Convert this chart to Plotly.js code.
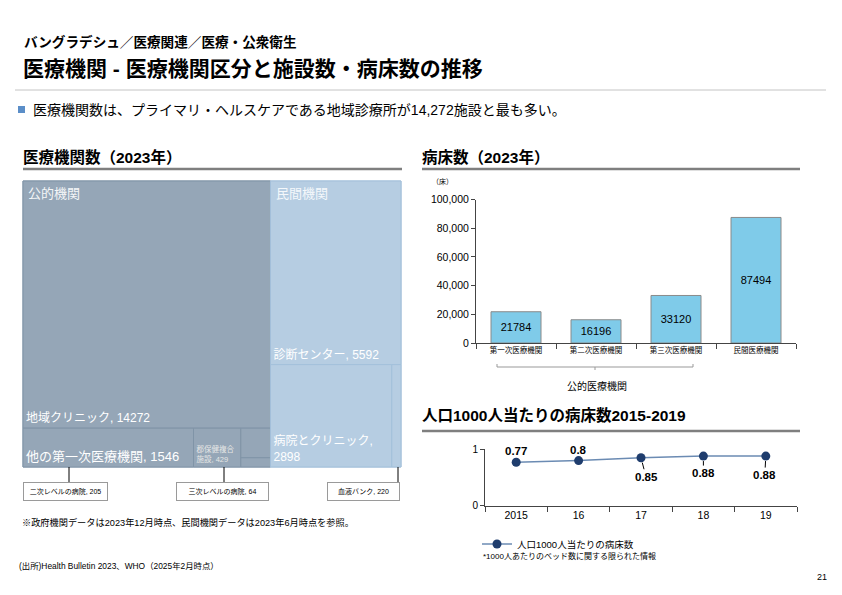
<!DOCTYPE html>
<html><head><meta charset="utf-8">
<script src="https://cdn.plot.ly/plotly-3.0.1.min.js"></script>
<style>html,body{margin:0;padding:0;background:#fff;}#chart{width:842px;height:595px;}</style>
</head><body><div id="chart"></div>
<script>
// ---- data ----
var facilityGroups = ["公的機関", "民間機関"];
var publicLabels = ["地域クリニック", "他の第一次医療機関", "郡保健複合施設", "二次レベルの病院", "三次レベルの病院"];
var publicCounts = [14272, 1546, 429, 205, 64];
var privateLabels = ["診断センター", "病院とクリニック", "血液バンク"];
var privateCounts = [5592, 2898, 220];

var bedCategories = ["第一次医療機関", "第二次医療機関", "第三次医療機関", "民間医療機関"];
var bedCounts = [21784, 16196, 33120, 87494];

var years = ["2015", "16", "17", "18", "19"];
var bedsPer1000 = [0.77, 0.8, 0.85, 0.88, 0.88];
var lineName = "人口1000人当たりの病床数";

// ---- helpers ----
var W = 842, H = 595;
function px(x) { return x / W; }
function py(y) { return 1 - y / H; }
var FONT = "Liberation Sans, Noto Sans CJK JP, sans-serif";

// ---- treemap ----
var tmLabels = facilityGroups.concat(publicLabels, privateLabels);
var tmParents = ["", ""].concat(publicLabels.map(function () { return facilityGroups[0]; }),
                                privateLabels.map(function () { return facilityGroups[1]; }));
var tmValues = [0, 0].concat(publicCounts, privateCounts);
var PUB = "#95a6b7", PRI = "#b6cde2";
var tmColors = [PUB, PRI].concat(publicLabels.map(function () { return PUB; }), privateLabels.map(function () { return PRI; }));
var tmLine = ["#8094a7", "#a3c0da"].concat(publicLabels.map(function () { return "#8094a7"; }), privateLabels.map(function () { return "#a3c0da"; }));
var tmText = tmLabels.map(function (l, i) {
  var v = tmValues[i];
  if (i < 2) return "";
  if (l === "郡保健複合施設") return "郡保健複合<br>施設, " + v;
  if (l === "病院とクリニック") return l + ",<br>" + v;
  if (v < 300) return "";
  return l + ", " + v;
});
var tmSize = tmLabels.map(function (l) {
  if (l === "他の第一次医療機関") return 13;
  if (l === "郡保健複合施設") return 7.5;
  return 12;
});
var tmTextColor = tmLabels.map(function (l) { return l === "郡保健複合施設" ? "#e6e6e6" : "#ffffff"; });

var treemap = {
  type: "treemap",
  labels: tmLabels, parents: tmParents, values: tmValues,
  branchvalues: "remainder",
  text: tmText, textinfo: "text",
  textposition: "bottom left",
  textfont: { family: FONT, size: tmSize, color: tmTextColor },
  marker: { colors: tmColors, line: { color: tmLine, width: 1 }, pad: { t: 0, l: 0, r: 0, b: 0 }, depthfade: false },
  tiling: { packing: "squarify", pad: 0 },
  pathbar: { visible: false },
  root: { color: "rgba(0,0,0,0)" },
  domain: { x: [px(23), px(401)], y: [py(467), py(181)] },
  hoverinfo: "skip", sort: true
};

// ---- bar ----
var bar = {
  type: "bar", x: bedCategories, y: bedCounts, xaxis: "x", yaxis: "y",
  width: 0.625,
  marker: { color: "#7fcbe9", line: { color: "#8a8a8a", width: 1 } },
  text: bedCounts.map(String), textposition: "inside", insidetextanchor: "middle", textangle: 0,
  textfont: { family: FONT, size: 11, color: "#000" },
  hoverinfo: "skip", showlegend: false
};

// ---- line ----
var line = {
  type: "scatter", mode: "lines+markers", x: years, y: bedsPer1000, xaxis: "x2", yaxis: "y2",
  name: lineName,
  line: { color: "#6b8bb3", width: 1.5 },
  marker: { color: "#1f3d6d", size: 9 },
  hoverinfo: "skip", showlegend: true
};

// ---- annotations ----
var ann = [];
function txt(x, y, t, size, opts) {
  var a = { xref: "paper", yref: "paper", x: px(x), y: py(y), text: t, showarrow: false,
            xanchor: "left", yanchor: "middle", font: { family: FONT, size: size, color: "#000" } };
  for (var k in (opts || {})) a[k] = opts[k];
  return a;
}
ann.push(txt(22, 42, "<b>バングラデシュ／医療関連／医療・公衆衛生</b>", 13.6));
ann.push(txt(21, 68, "<b>医療機関 - 医療機関区分と施設数・病床数の推移</b>", 21));
ann.push(txt(31, 110, "医療機関数は、プライマリ・ヘルスケアである地域診療所が14,272施設と最も多い。", 14));
ann.push(txt(21, 157, "<b>医療機関数（2023年）</b>", 15.5));
ann.push(txt(420, 157, "<b>病床数（2023年）</b>", 15.5));
ann.push(txt(420, 415, "<b>人口1000人当たりの病床数2015-2019</b>", 15.5));
ann.push(txt(430, 182, "（床）", 7));
ann.push(txt(597, 386, "公的医療機関", 10, { xanchor: "center" }));
ann.push(txt(26, 194, facilityGroups[0], 13, { font: { family: FONT, size: 13, color: "#f4f6f8" } }));
ann.push(txt(274, 194, facilityGroups[1], 13, { font: { family: FONT, size: 13, color: "#f4f8fb" } }));
ann.push(txt(20, 522, "※政府機関データは2023年12月時点、民間機関データは2023年6月時点を参照。", 9.2));
ann.push(txt(17, 566, "(出所)Health Bulletin 2023、WHO（2025年2月時点）", 8.4));
ann.push(txt(481, 556, "*1000人あたりのベッド数に関する限られた情報", 8));
ann.push(txt(822, 577, "21", 9, { xanchor: "center" }));

// callouts for tiny cells
var callouts = [
  { label: publicLabels[3], value: publicCounts[3], cx: 65.5, w: 85, lx: 69 },
  { label: publicLabels[4], value: publicCounts[4], cx: 222.5, w: 93, lx: 224 },
  { label: privateLabels[2], value: privateCounts[2], cx: 363.5, w: 73, lx: 398 }
];
callouts.forEach(function (c) {
  ann.push({ xref: "paper", yref: "paper", x: px(c.cx), y: py(491), text: c.label + ", " + c.value,
    showarrow: false, xanchor: "center", yanchor: "middle", width: c.w - 4, height: 15,
    bordercolor: "#9a9a9a", borderwidth: 1, bgcolor: "#fff", font: { family: FONT, size: 7, color: "#000" } });
});

// line data labels (x given as category index)
var labelOffsets = [null, null, { ax: 5, ay: 19 }, { ax: 0, ay: 17 }, { ax: -1, ay: 19 }];
years.forEach(function (yr, i) {
  var a = { xref: "x2", yref: "y2", x: i, y: bedsPer1000[i], text: "<b>" + bedsPer1000[i] + "</b>",
            font: { family: FONT, size: 11.5, color: "#000" } };
  if (labelOffsets[i] === null) { a.showarrow = false; a.yshift = 11; }
  else { a.showarrow = true; a.arrowhead = 0; a.arrowwidth = 1; a.arrowcolor = "#000";
         a.ax = labelOffsets[i].ax; a.ay = labelOffsets[i].ay; a.standoff = 5; }
  ann.push(a);
});

// ---- shapes ----
var shapes = [];
function ln(x0, y0, x1, y1, color, width) {
  shapes.push({ type: "line", xref: "paper", yref: "paper", x0: px(x0), y0: py(y0), x1: px(x1), y1: py(y1),
    line: { color: color, width: width } });
}
ln(15, 90, 826, 90, "#c4c4c4", 1);
shapes.push({ type: "rect", xref: "paper", yref: "paper", x0: px(18), x1: px(25), y0: py(113), y1: py(106),
  fillcolor: "#5b8ec8", line: { width: 0 } });
ln(23, 169, 402, 169, "#7f7f7f", 2.5);
ln(422, 169, 800, 169, "#7f7f7f", 2.5);
ln(422, 431, 800, 431, "#7f7f7f", 2.5);
// bracket under public categories
ln(497, 364, 497, 367, "#999", 1);
ln(497, 367, 693, 367, "#999", 1);
ln(693, 364, 693, 367, "#999", 1);
ln(595, 367, 595, 370, "#999", 1);
// leader lines
callouts.forEach(function (c) { ln(c.lx, 467, c.lx, 483, "#000", 1); });

var layout = {
  width: W, height: H, margin: { l: 0, r: 0, t: 0, b: 0 },
  paper_bgcolor: "#fff", plot_bgcolor: "rgba(0,0,0,0)",
  font: { family: FONT, color: "#000" },
  xaxis: { domain: [px(476), px(796)], anchor: "y", type: "category", showline: true, linecolor: "#444", linewidth: 1,
           ticks: "outside", tickson: "boundaries", ticklen: 5, tickcolor: "#444", tickfont: { size: 7.5 },
           showgrid: false, fixedrange: true, range: [-0.5, 3.5] },
  yaxis: { domain: [py(343), py(199.5)], anchor: "x", range: [0, 100000], tickvals: [0, 20000, 40000, 60000, 80000, 100000],
           tickformat: ",d", showline: true, linecolor: "#444", linewidth: 1, ticks: "outside", ticklen: 4, tickcolor: "#444",
           showgrid: false, zeroline: false, tickfont: { size: 10.5 }, fixedrange: true },
  xaxis2: { domain: [px(485), px(797)], anchor: "y2", type: "category", showline: true, linecolor: "#444", linewidth: 1,
            ticks: "outside", tickson: "boundaries", ticklen: 5, tickcolor: "#444", tickfont: { size: 10.5 },
            showgrid: false, fixedrange: true, range: [-0.5, 4.5], tickangle: 0 },
  yaxis2: { domain: [py(505.7), py(449.3)], anchor: "x2", range: [0, 1], tickvals: [0, 1], showline: true, linecolor: "#444",
            linewidth: 1, ticks: "outside", ticklen: 4, tickcolor: "#444", showgrid: false, zeroline: false,
            tickfont: { size: 10 }, fixedrange: true },
  showlegend: true,
  legend: { x: px(477), y: py(544), xanchor: "left", yanchor: "middle", font: { family: FONT, size: 9.5 },
            bgcolor: "rgba(0,0,0,0)", itemwidth: 30 },
  annotations: ann, shapes: shapes
};

Plotly.newPlot("chart", [treemap, bar, line], layout, { displayModeBar: false, staticPlot: true });
</script></body></html>
